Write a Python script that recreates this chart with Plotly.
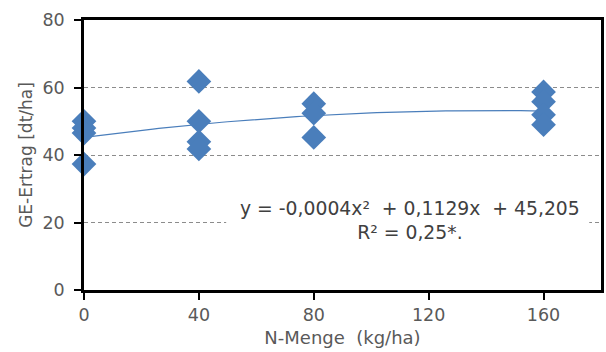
import numpy as np
import plotly.graph_objects as go

# Data
n_rate = [0, 0, 0, 0, 40, 40, 40, 40, 80, 80, 80, 160, 160, 160, 160]
yield_dt = [50.0, 48.0, 46.5, 37.3, 61.8, 50.0, 43.9, 41.8, 55.2, 52.4, 45.2, 58.7, 55.8, 51.9, 49.0]

# Trend line coefficients shown in the chart
coef = [-0.0004, 0.1129, 45.205]
eq_text = "y = -0,0004x²&nbsp; + 0,1129x&nbsp; + 45,205<br>R² = 0,25*."

x_ticks = [0, 40, 80, 120, 160]
y_ticks = [0, 20, 40, 60, 80]

blue = "#4A7EBB"
font_fam = "DejaVu Sans, Verdana, sans-serif"

xt = np.linspace(0, 160, 81)
yt = np.polyval(coef, xt)

fig = go.Figure()
fig.add_trace(go.Scatter(x=xt, y=yt, mode="lines",
                         line=dict(color=blue, width=1.2), hoverinfo="skip",
                         showlegend=False, cliponaxis=False))
fig.add_trace(go.Scatter(x=n_rate, y=yield_dt, mode="markers",
                         marker=dict(symbol="diamond", size=19, color=blue,
                                     line=dict(width=0)),
                         showlegend=False, cliponaxis=False))

# white box behind the equation (covers the 20-gridline)
fig.add_shape(type="rect", x0=49.5, x1=175.9, y0=14, y1=27, xref="x", yref="y",
              fillcolor="white", line=dict(width=0), layer="between")

fig.add_annotation(x=113.5, y=20.6, xref="x", yref="y", text=eq_text,
                   showarrow=False, align="center",
                   font=dict(family=font_fam, size=18.8, color="#404040"))

fig.update_layout(
    width=606, height=352,
    margin=dict(l=84, r=2, t=20, b=62),
    paper_bgcolor="white", plot_bgcolor="white",
    font=dict(family=font_fam, size=17, color="#595959"),
)
fig.update_xaxes(range=[0, 180], tickvals=x_ticks, ticks="outside", ticklen=7,
                 tickwidth=2, tickcolor="black", showline=True, linewidth=2.5,
                 linecolor="black", mirror=True, showgrid=False, zeroline=False,
                 title=dict(text="N-Menge&nbsp; (kg/ha)", standoff=8,
                            font=dict(size=18, color="#595959")),
                 tickfont=dict(size=17.5, color="#595959"))
fig.update_yaxes(range=[0, 80], tickvals=y_ticks, ticks="outside", ticklen=7,
                 tickwidth=2, tickcolor="black", showline=True, linewidth=2.5,
                 linecolor="black", mirror=True, showgrid=True,
                 gridcolor="#8C8C8C", griddash="4px,3px", gridwidth=1,
                 zeroline=False, ticklabelstandoff=6,
                 title=dict(text="GE-Ertrag [dt/ha]", standoff=6,
                            font=dict(size=17, color="#595959")),
                 tickfont=dict(size=17.5, color="#595959"))

fig.write_html("out.html")
